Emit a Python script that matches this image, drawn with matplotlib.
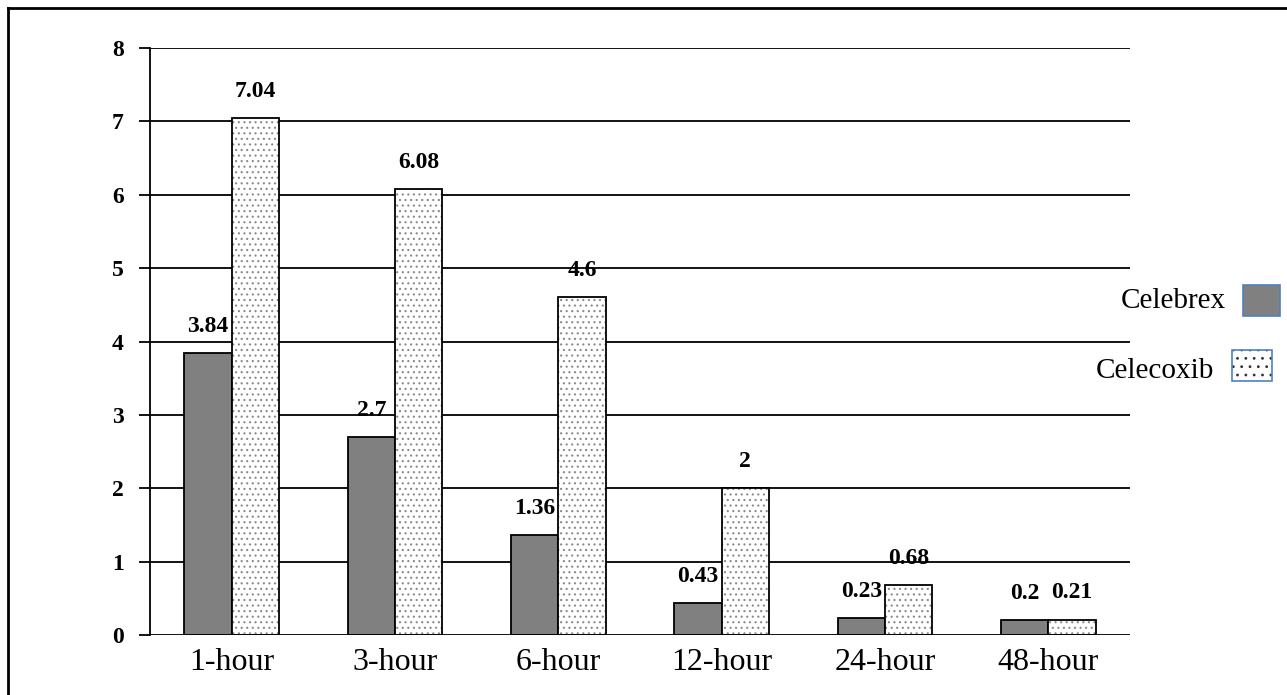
import matplotlib.pyplot as plt
import numpy as np
from matplotlib.lines import Line2D

categories = ['1-hour', '3-hour', '6-hour', '12-hour', '24-hour', '48-hour']
celebrex = [3.84, 2.7, 1.36, 0.43, 0.23, 0.2]
celecoxib = [7.04, 6.08, 4.6, 2, 0.68, 0.21]
celebrex_txt = ['3.84', '2.7', '1.36', '0.43', '0.23', '0.2']
celecoxib_txt = ['7.04', '6.08', '4.6', '2', '0.68', '0.21']

plt.rcParams['font.family'] = ['Liberation Serif', 'DejaVu Serif']
plt.rcParams['hatch.linewidth'] = 0.8

fig = plt.figure(figsize=(12.87, 6.95), dpi=100)
ax = fig.add_axes([150/1287, 1-635/695, 980/1287, 587/695])

x = np.arange(len(categories))
w = 0.29
for yv in range(1, 9):
    ax.axhline(yv, color='black', lw=1.3, zorder=1)

ax.bar(x - w/2, celebrex, w, color='#808080', edgecolor='black', lw=1.3, zorder=3)
# dotted fill first (grey dots), then black outline on top
ax.bar(x + w/2, celecoxib, w, color='white', edgecolor='#8a8a8a', lw=0,
       hatch='...', zorder=3)
ax.bar(x + w/2, celecoxib, w, color='none', edgecolor='black', lw=1.3, zorder=4)

for i in range(len(categories)):
    ax.text(x[i] - w/2, celebrex[i] + 0.22, celebrex_txt[i], ha='center', va='bottom',
            fontsize=17, fontweight='bold', zorder=5)
    ax.text(x[i] + w/2, celecoxib[i] + 0.22, celecoxib_txt[i], ha='center', va='bottom',
            fontsize=17, fontweight='bold', zorder=5)

ax.set_xlim(-0.5, 5.5)
ax.set_ylim(0, 8)
ax.set_yticks(range(0, 9))
ax.set_xticks(x)
ax.set_xticklabels(categories, fontsize=23)
for t in ax.get_yticklabels():
    t.set_fontweight('bold')
    t.set_fontsize(17)
ax.tick_params(axis='y', length=8, width=1.3, pad=11)
ax.tick_params(axis='x', length=0, pad=9)
for s in ['top', 'right', 'bottom']:
    ax.spines[s].set_visible(False)
ax.spines['left'].set_linewidth(1.3)
ax.axhline(0, color='black', lw=1.3, zorder=5)

# legend drawn by hand to the right of plot
fig.text(1226/1287, 1-301/695, 'Celebrex', ha='right', va='center', fontsize=21)
fig.text(1214/1287, 1-371/695, 'Celecoxib', ha='right', va='center', fontsize=21)
fig.patches.append(plt.Rectangle((1243/1287, 1-316/695), 37/1287, 31/695,
                                 transform=fig.transFigure, facecolor='#808080',
                                 edgecolor='#4f81bd', lw=1.2))
fig.patches.append(plt.Rectangle((1232/1287, 1-381/695), 40/1287, 31/695,
                                 transform=fig.transFigure, facecolor='white',
                                 edgecolor='#333333', lw=0, hatch='..'))
fig.patches.append(plt.Rectangle((1232/1287, 1-381/695), 40/1287, 31/695,
                                 transform=fig.transFigure, facecolor='none',
                                 edgecolor='#4f81bd', lw=1.2))

# outer frame (left and top edges)
fig.add_artist(Line2D([8/1287, 8/1287], [0, 1-8/695], transform=fig.transFigure,
                      color='black', lw=2))
fig.add_artist(Line2D([8/1287, 1], [1-8/695, 1-8/695], transform=fig.transFigure,
                      color='black', lw=2))

fig.savefig('out.png', dpi=100)
